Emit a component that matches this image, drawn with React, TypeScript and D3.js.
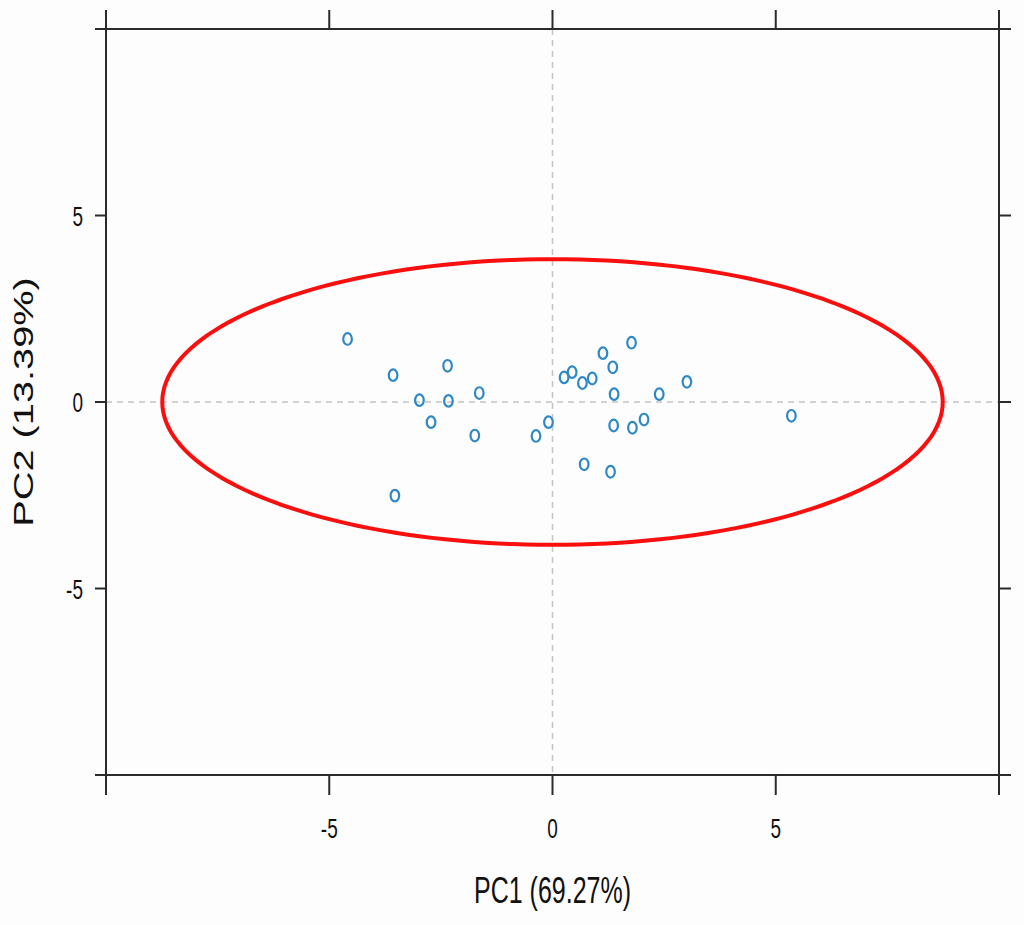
import React from "react";
import * as d3 from "d3";

const pc1: number[] = [-4.59, -3.57, -2.35, -2.98, -2.33, -1.64, -2.72, -1.74, -0.37, -0.09, -3.53,
  0.26, 0.44, 0.67, 0.89, 1.13, 1.35, 1.77, 1.38, 2.39, 3.01, 5.35, 1.37, 1.79, 2.05, 0.71, 1.30];
const pc2: number[] = [1.69, 0.72, 0.97, 0.05, 0.03, 0.24, -0.54, -0.90, -0.91, -0.54, -2.51,
  0.66, 0.80, 0.51, 0.63, 1.31, 0.93, 1.59, 0.21, 0.21, 0.54, -0.37, -0.63, -0.69, -0.47, -1.67, -1.87];
const ellipseCenter: number[] = [0, 0];
const ellipseRadii: number[] = [8.74, 3.83];
const tickValues: number[] = [-10, -5, 0, 5, 10];
const tickLabels: string[] = ["", "-5", "0", "5", ""];
const xLabel = "PC1 (69.27%)";
const yLabel = "PC2 (13.39%)";

const W = 1024, H = 925;
const L = 106, R = 999, T = 29, B = 775;

export default function App() {
  const x = d3.scaleLinear().domain([-10, 10]).range([L, R]);
  const y = d3.scaleLinear().domain([-10, 10]).range([B, T]);
  const frame = "#2b2b2b";
  const font = "'Liberation Sans', Arial, sans-serif";
  const ell = d3.range(0, 361, 2).map((a) => {
    const t = (a * Math.PI) / 180;
    return [x(ellipseCenter[0] + ellipseRadii[0] * Math.cos(t)), y(ellipseCenter[1] + ellipseRadii[1] * Math.sin(t))] as [number, number];
  });
  const ellPath = d3.line().curve(d3.curveLinearClosed)(ell) || "";
  return (
    <svg width={W} height={H} style={{ position: "absolute", left: 0, top: 0 }}>
      <rect x={0} y={0} width={W} height={H} fill="#fdfdfd" />
      <line x1={L} x2={R} y1={y(0)} y2={y(0)} stroke="#c4c4c4" strokeWidth={1.5} strokeDasharray="6,5" />
      <line x1={x(0)} x2={x(0)} y1={T} y2={B} stroke="#c4c4c4" strokeWidth={1.5} strokeDasharray="6,5" />
      <path d={ellPath} fill="none" stroke="#fa0f0f" strokeWidth={4} />
      {pc1.map((v, i) => (
        <ellipse key={i} cx={x(v)} cy={y(pc2[i])} rx={4.3} ry={5.8} fill="none" stroke="#2f88c6" strokeWidth={2.2} />
      ))}
      <rect x={L} y={T} width={R - L} height={B - T} fill="none" stroke={frame} strokeWidth={2} />
      {tickValues.map((v, i) => (
        <g key={"t" + i}>
          <line x1={x(v)} x2={x(v)} y1={T} y2={T - 19} stroke={frame} strokeWidth={2} />
          <line x1={x(v)} x2={x(v)} y1={B} y2={B + 20} stroke={frame} strokeWidth={2} />
          <line x1={L} x2={L - 11} y1={y(v)} y2={y(v)} stroke={frame} strokeWidth={2} />
          <line x1={R} x2={R + 12} y1={y(v)} y2={y(v)} stroke={frame} strokeWidth={2} />
          {tickLabels[i] && (
            <text transform={`translate(${x(v)},${838}) scale(1,1.45)`} textAnchor="middle" fontFamily={font} fontSize={19} fill="#111">
              {tickLabels[i]}
            </text>
          )}
          {tickLabels[i] && (
            <text transform={`translate(${83},${y(v) + 10}) scale(1,1.45)`} textAnchor="end" fontFamily={font} fontSize={19} fill="#111">
              {tickLabels[i]}
            </text>
          )}
        </g>
      ))}
      <text transform={`translate(${(L + R) / 2},${903}) scale(1,1.5)`} textAnchor="middle" fontFamily={font} fontSize={25} fill="#111">
        {xLabel}
      </text>
      <text transform={`translate(33,${(T + B) / 2}) rotate(-90) scale(1.42,1)`} textAnchor="middle" fontFamily={font} fontSize={28} fill="#111">
        {yLabel}
      </text>
    </svg>
  );
}
